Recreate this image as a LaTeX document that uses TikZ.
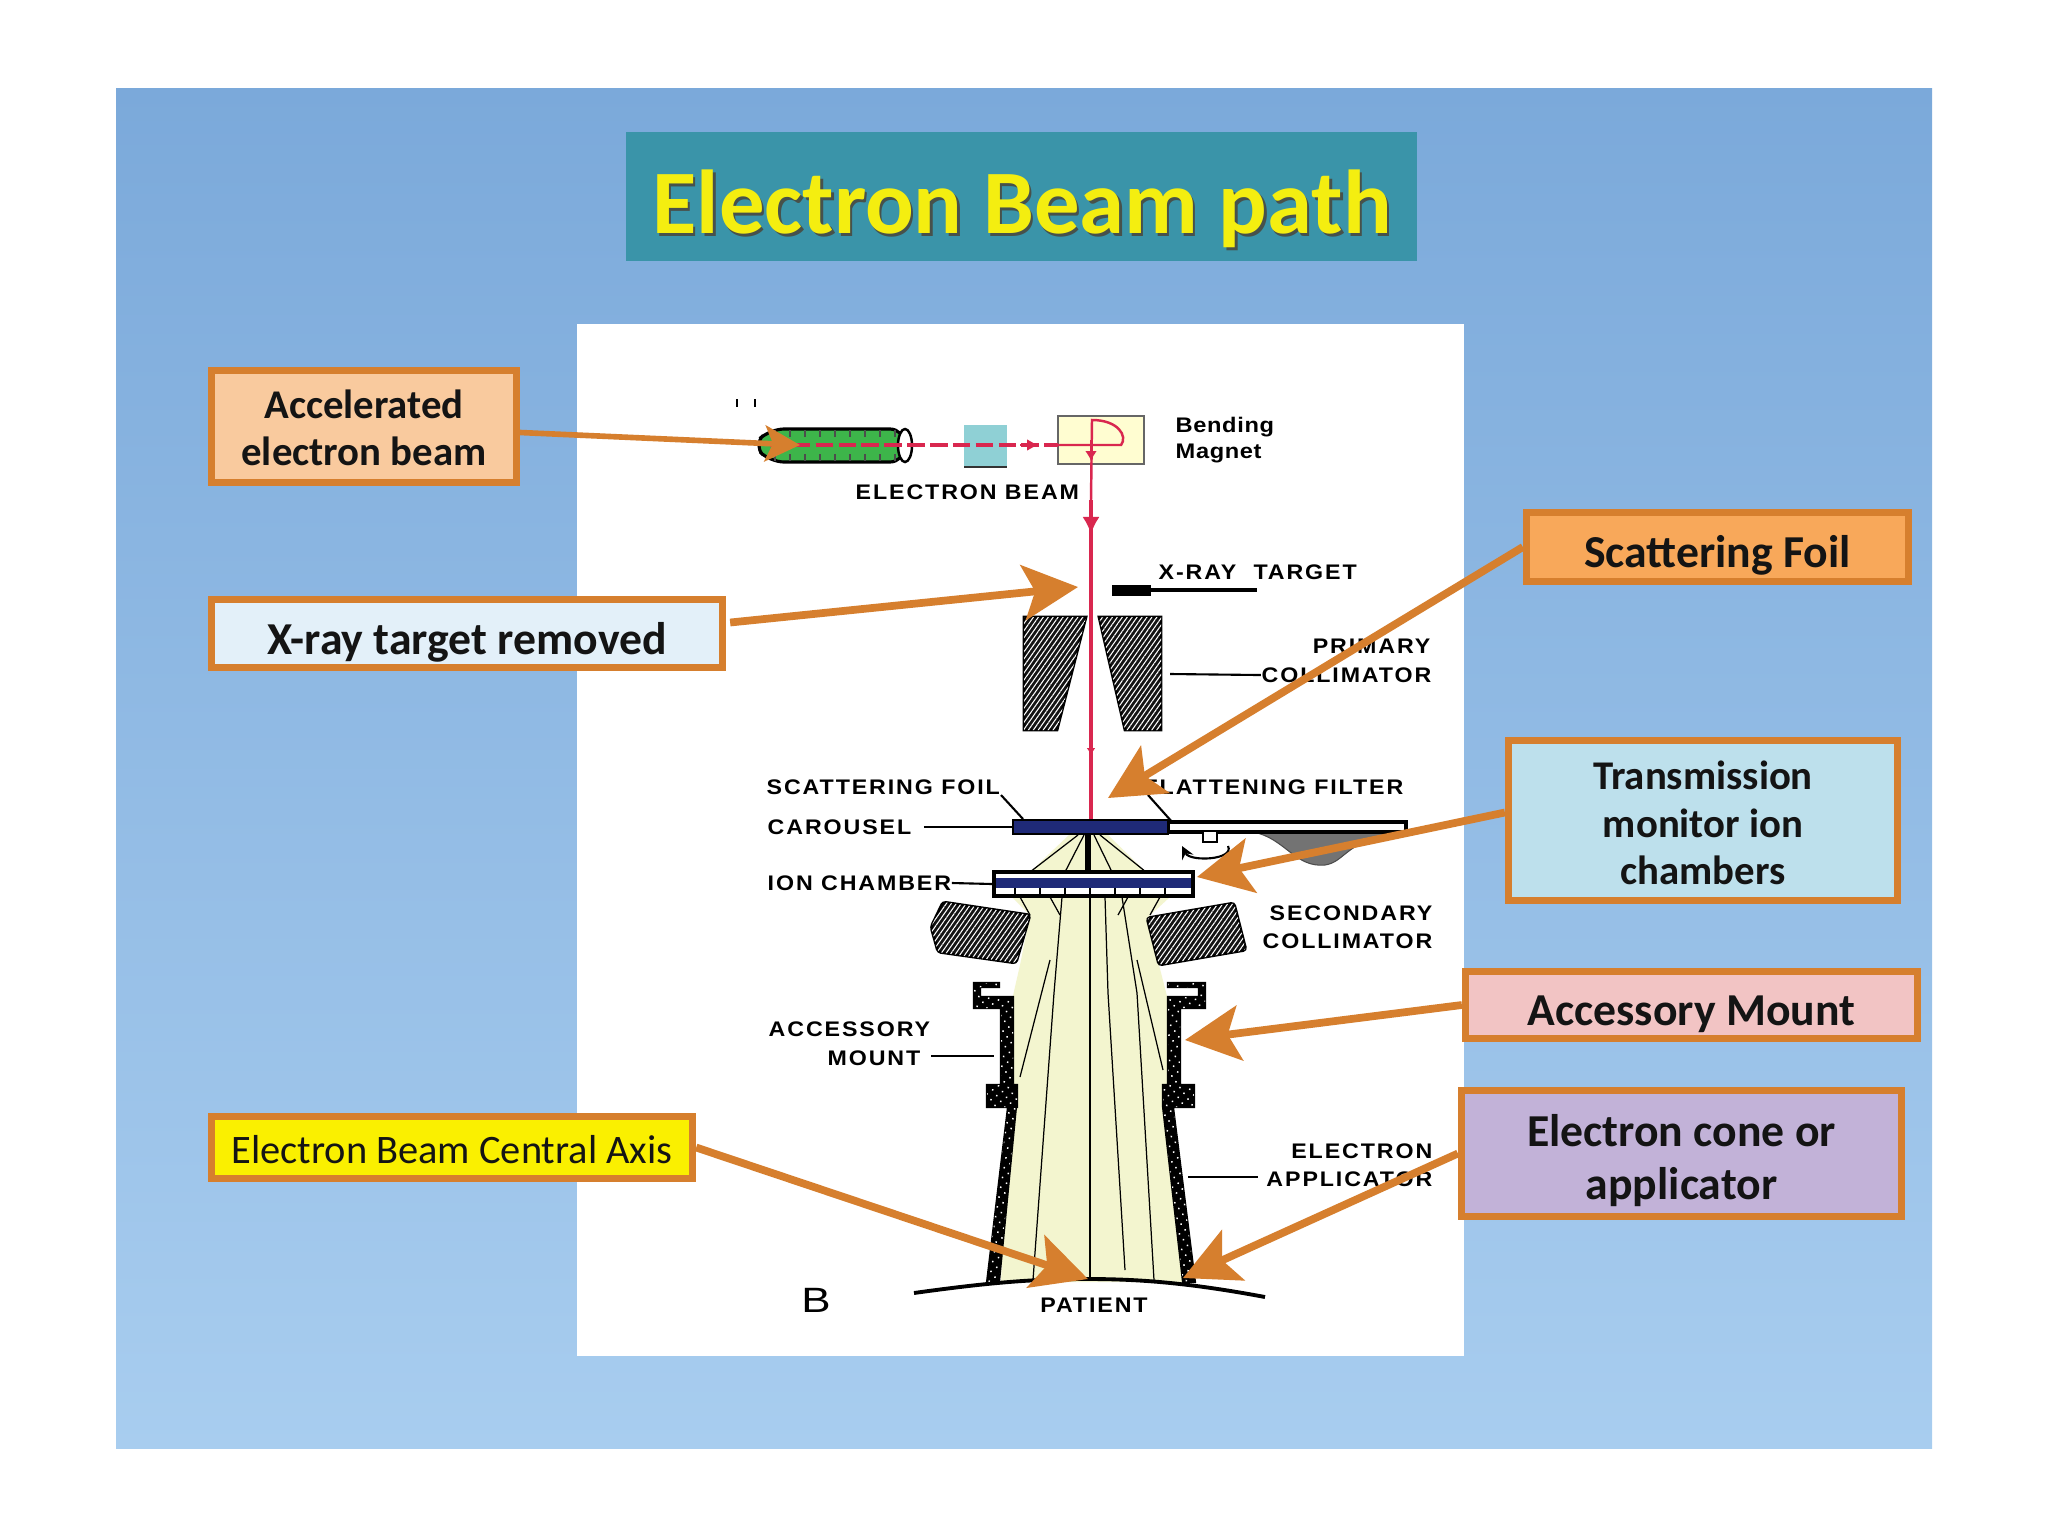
\documentclass[tikz,border=0pt]{standalone}
\usepackage{fontspec}
\setmainfont{Liberation Sans}
\newfontfamily\boxfont{Carlito}[BoldFont={Carlito Bold}]
\newfontfamily\lblfont[LetterSpace=9, FakeStretch=1.1]{Liberation Sans}
\newfontfamily\magfont[LetterSpace=3, FakeStretch=1.12]{Liberation Sans}
\usepackage{xcolor}
\usetikzlibrary{patterns.meta}
\usetikzlibrary{arrows.meta}
\definecolor{panelTop}{HTML}{7BA9DA}
\definecolor{panelBot}{HTML}{A8CDEF}
\definecolor{titleBg}{HTML}{3A94A9}
\definecolor{titleFg}{HTML}{F4EE10}
\definecolor{edgeOr}{HTML}{D67F2E}
\definecolor{beamRed}{HTML}{D9274F}
\definecolor{coneFill}{HTML}{F3F5CF}
\definecolor{plateBlue}{HTML}{1F2A78}
\definecolor{tagPeach}{HTML}{F9CA9E}
\definecolor{tagIce}{HTML}{E3F0F9}
\definecolor{tagOrange}{HTML}{F8A85A}
\definecolor{tagAqua}{HTML}{BDE0EC}
\definecolor{tagPink}{HTML}{F2C4C4}
\definecolor{tagLilac}{HTML}{C2B2D8}
\definecolor{tagYellow}{HTML}{FAF000}
\definecolor{tubeGreen}{HTML}{3DB54A}
\definecolor{slitTeal}{HTML}{8FD0D5}

\begin{document}
\begin{tikzpicture}[
      x=0.01cm,
      y=-0.01cm,
      >=stealth,
      lbl/.style={font=\lblfont\fontsize{6}{7}\selectfont\bfseries, inner sep=0pt, text=black},
      tag/.style={draw=edgeOr, line width=2pt, align=center, inner sep=0pt, text=black!92},
      smalltag/.style={tag, font=\boxfont\fontsize{11.6}{13.5}\selectfont\bfseries},
      bigtag/.style={tag, font=\boxfont\fontsize{13}{15.2}\selectfont\bfseries},
      pointer/.style={-{Stealth[length=.55cm, width=.55cm, inset=.12cm]}, line width=2.2pt, draw=edgeOr},
      beam/.style={draw=beamRed, line width=.7pt},
      leader/.style={draw=black, line width=.6pt},
      ray/.style={draw=black, line width=.35pt},
      hatchblk/.style={fill=black!92, draw=black, line width=.8pt, postaction={pattern={Lines[angle=55, distance=1.15pt, line width=.3pt]}, pattern color=white}},
      spotblk/.style={fill=black, draw=black, line width=.6pt, postaction={pattern={Dots[radius=.3pt, distance=2pt, angle=35]}, pattern color=white}}
    ]
    \useasboundingbox (0,0) rectangle (2048,1536);

    % Fondo
    \shade[top color=panelTop, bottom color=panelBot] (116,88) rectangle (1932,1448);
    \fill[white] (577,324) rectangle (1464,1356);

    % Titolo
    \fill[titleBg] (626,132) rectangle (1417,261);
    \node[inner sep=0pt, font=\boxfont\fontsize{25.8}{30}\selectfont\bfseries, text=black!70!yellow!60!black, opacity=.85] (titleShadow) at (1024.5,212) {Electron Beam path};
    \node[inner sep=0pt, font=\boxfont\fontsize{25.8}{30}\selectfont\bfseries, text=titleFg] (title) at (1022,209) {Electron Beam path};

    % Acceleratore
    \draw[black, line width=.6pt] (737,399) -- (737,407);
    \draw[black, line width=.6pt] (755,399) -- (755,407);
    \draw[fill=tubeGreen, draw=black, line width=.9pt, rounded corners=.14cm] (770,429) -- (904,429) -- (904,462) -- (770,462) -- (753,445) -- cycle;
    \foreach \x in {775,790,...,895} {
      \draw[black!70, line width=.6pt] (\x,430) -- (\x,437);
      \draw[black!70, line width=.6pt] (\x,454) -- (\x,461);
    }
    \draw[fill=white, draw=black, line width=.7pt] (905,445.5) ellipse (7 and 16.5);
    \fill[slitTeal] (964,425) rectangle (1007,467);
    \draw[black!80, line width=.6pt] (964,467) -- (1007,467);
    \draw[fill=yellow!18, draw=black!60, line width=.35pt] (1058,416) rectangle (1144,464);

    % Fascio
    \draw[beam, line width=.9pt, dash pattern=on 5pt off 1.5pt] (770,445) -- (1058,445);
    \draw[beam] (1058,445) -- (1121,445) .. controls (1128,436) and (1118,420) .. (1092,420) -- (1091,500);
    \draw[beam, -{Latex[length=.12cm, width=.12cm]}] (1020,445) -- (1039,445);
    \draw[beam, -{Latex[length=.1cm, width=.12cm]}] (1091,440) -- (1091,461);
    \coordinate (beamTop) at (1091,500);
    \coordinate (beamFoil) at (1091,822);
    \draw[beam, line width=1pt] (beamTop) -- (beamFoil);
    \draw[beam, -{Latex[length=.17cm, width=.17cm]}] (1091,490) -- (1091,534);
    \draw[beam, -{Latex[length=.07cm, width=.09cm]}] (1091,740) -- (1091,755);

    % Bersaglio
    \fill[black] (1112,585) rectangle (1151,596);
    \draw[black, line width=1pt] (1151,590) -- (1257,590);

    % Collimatore primario
    \draw[hatchblk] (1024,617) -- (1086,617) -- (1057,730) -- (1024,730) -- cycle;
    \draw[hatchblk] (1099,617) -- (1161,617) -- (1161,730) -- (1125,730) -- cycle;

    % Cono del fascio
    \fill[coneFill] (1012,897) -- (1170,897) -- (1147,918) -- (1159,965) -- (1168,1000) -- (1183,1282) -- (1001,1282) -- (1012,1000) -- (1020,965) -- (1030,915) -- cycle;
    \fill[coneFill] (1069,835) -- (1108,835) -- (1146,872) -- (1030,872) -- cycle;
    \draw[ray] (1078,835) -- (1030,872);
    \draw[ray] (1084,835) -- (1065,872);
    \draw[ray] (1094,835) -- (1112,872);
    \draw[ray] (1100,835) -- (1146,872);
    \foreach \x/\y in {1020/1030, 1050/1060, 1128/1118, 1160/1150} \draw[ray] (\x,897) -- (\y,915);
    \draw[ray] (1090,897) -- (1090,1280);
    \draw[ray] (1062,897) -- (1054,993) -- (1033,1280);
    \draw[ray] (1105,897) -- (1108,993) -- (1125,1270);
    \draw[ray] (1122,897) -- (1137,993) -- (1154,1280);
    \draw[ray] (1050,960) -- (1020,1077);
    \draw[ray] (1137,960) -- (1163,1070);
    \draw[black, line width=1.6pt] (1088,835) -- (1088,870);

    % Collimatore secondario
    \draw[hatchblk, rounded corners=.03cm] (943,902) -- (1030,915) -- (1016,963) -- (938,952) -- (931,927) -- cycle;
    \draw[hatchblk, rounded corners=.03cm] (1147,918) -- (1234,903) -- (1246,950) -- (1159,965) -- cycle;

    % Piastre
    \draw[fill=black!55, draw=black!70, line width=.3pt] (1253,832) .. controls (1285,838) and (1295,868) .. (1325,865) .. controls (1345,862) and (1345,842) .. (1395,832) -- cycle;
    \draw[fill=white, draw=black, line width=.9pt] (1168,822) rectangle (1406,832);
    \node[draw=black, fill=plateBlue, line width=.8pt, minimum width=1.55cm, minimum height=.14cm, inner sep=0pt] (foil) at (1090.5,827) {};
    \node[draw=black, fill=white, line width=1pt, minimum width=1.99cm, minimum height=.24cm, inner sep=0pt] (chamber) at (1093.5,884) {};
    \fill[plateBlue] (996,878) rectangle (1191,888);
    \foreach \x in {1015,1040,...,1180} \draw[ray] (\x,888) -- (\x,896);
    \draw[black, line width=.8pt, fill=white] (1203,832) -- (1203,842) -- (1217,842) -- (1217,832);
    \draw[black, line width=.6pt, ->] (1228,846) .. controls (1235,860) and (1190,862) .. (1182,846);

    % Applicatore
    \draw[spotblk] (974,983) -- (999,983) -- (999,987) -- (980,987) -- (980,997) -- (1013,997) -- (1013,1085) -- (1017,1085) -- (1017,1107) -- (1016,1107) -- (999,1282) -- (987,1282) -- (1008,1107) -- (987,1107) -- (987,1085) -- (1001,1085) -- (1001,1008) -- (974,1008) -- cycle;
    \draw[spotblk] (1205,983) -- (1168,983) -- (1168,987) -- (1199,987) -- (1199,997) -- (1168,997) -- (1168,1085) -- (1163,1085) -- (1163,1107) -- (1183,1282) -- (1195,1282) -- (1173,1107) -- (1194,1107) -- (1194,1085) -- (1180,1085) -- (1180,1008) -- (1205,1008) -- cycle;

    % Paziente
    \draw[black, line width=1.1pt] (914,1293) .. controls (1000,1281) and (1040,1279) .. (1088,1279) .. controls (1140,1279) and (1190,1283) .. (1265,1297);

    % Scritte
    \node[lbl, font=\magfont\fontsize{6}{7}\selectfont\bfseries, anchor=west] (lblBending) at (1175,427) {Bending};
    \node[lbl, font=\magfont\fontsize{6}{7}\selectfont\bfseries, anchor=west] (lblMagnet) at (1175,453) {Magnet};
    \node[lbl, anchor=west] (lblBeam) at (855,492) {ELECTRON BEAM};
    \node[lbl, anchor=west] (lblTarget) at (1158,572) {X-RAY\hspace{2.5pt} TARGET};
    \node[lbl, anchor=east] (lblPrimary) at (1431,646) {PRIMARY};
    \node[lbl, anchor=east] (lblPrimColl) at (1432,675) {COLLIMATOR};
    \node[lbl, anchor=west] (lblFoil) at (766,787) {SCATTERING FOIL};
    \node[lbl, anchor=east] (lblFilter) at (1404,787) {FLATTENING FILTER};
    \node[lbl, anchor=west] (lblCarousel) at (767,827) {CAROUSEL};
    \node[lbl, anchor=west] (lblIon) at (767,883) {ION CHAMBER};
    \node[lbl, anchor=east] (lblSecondary) at (1433,913) {SECONDARY};
    \node[lbl, anchor=east] (lblSecColl) at (1433,941) {COLLIMATOR};
    \node[lbl, anchor=west] (lblAccessory) at (768,1029) {ACCESSORY};
    \node[lbl, anchor=east] (lblMount) at (921,1058) {MOUNT};
    \node[lbl, anchor=east] (lblElectron) at (1433,1151) {ELECTRON};
    \node[lbl, anchor=east] (lblApplicator) at (1433,1179) {APPLICATOR};
    \node[lbl, anchor=center] (lblPatient) at (1094,1305) {PATIENT};
    \node[inner sep=0pt, xscale=1.25, font=\fontsize{10}{12}\selectfont] (lblB) at (816,1300) {B};

    % Linee di richiamo
    \coordinate (primEnd) at (1170,674);
    \coordinate (mountEnd) at (994,1056);
    \coordinate (applEnd) at (1188,1177);
    \coordinate (filterEnd) at (1173,823);
    \coordinate (filterTop) at (1148,795);
    \coordinate (foilTop) at (1001,795);
    \coordinate (foilEnd) at (1023,819);
    \draw[leader] (lblPrimColl.west) -- ++(-2,0) -- (primEnd);
    \draw[leader] (lblCarousel.east) ++(12,0) -- (foil.west);
    \draw[leader] (lblIon.east) -- (chamber.west);
    \draw[leader] (lblMount.east) ++(10,-2) -- (mountEnd);
    \draw[leader] (lblApplicator.west) ++(-8,-2) -- (applEnd);
    \draw[leader] (foilTop) -- (foilEnd);
    \draw[leader] (filterTop) -- (filterEnd);

    % Riquadri
    \node[smalltag, fill=tagPeach, minimum width=3.05cm, minimum height=1.12cm] (accel) at (364,426.5) {\rule{0pt}{9pt}Accelerated\\electron beam};
    \node[bigtag, fill=tagIce, text height=14.2pt, text depth=2.5pt, minimum width=5.11cm, minimum height=.68cm] (xray) at (467,633.5) {X-ray target removed};
    \node[tag, fill=tagYellow, font=\boxfont\fontsize{11.5}{13}\selectfont, text height=11.7pt, text depth=2.5pt, minimum width=4.81cm, minimum height=.62cm] (axis) at (452,1147.5) {Electron Beam Central Axis};
    \node[bigtag, fill=tagOrange, text height=14.2pt, text depth=2.5pt, minimum width=3.82cm, minimum height=.69cm] (scatter) at (1717.5,547) {Scattering Foil};
    \node[smalltag, fill=tagAqua, minimum width=3.89cm, minimum height=1.6cm] (trans) at (1703,820.5) {\rule{0pt}{9.5pt}Transmission\\monitor ion\\chambers};
    \node[bigtag, fill=tagPink, text height=14.2pt, text depth=2.5pt, minimum width=4.52cm, minimum height=.67cm] (mount) at (1691.5,1005) {Accessory Mount};
    \node[bigtag, fill=tagLilac, minimum width=4.40cm, minimum height=1.26cm] (cone) at (1681.5,1153.5) {\rule{0pt}{13pt}Electron cone or\\applicator};

    % Frecce
    \coordinate (accelTip) at (800,445);
    \coordinate (xrayTip) at (1078,587);
    \coordinate (foilTip) at (1108,798);
    \coordinate (ionTip) at (1197,877);
    \coordinate (mountTip) at (1185,1040);
    \coordinate (axisTip) at (1088,1279);
    \coordinate (coneTip) at (1183,1278);
    \draw[pointer, line width=1.6pt, -{Stealth[length=.35cm, width=.36cm, inset=.08cm]}] (accel.east) ++(0,6) -- (accelTip);
    \draw[pointer] (xray.east) ++(4,-11) -- (xrayTip);
    \draw[pointer] (scatter.west) -- (foilTip);
    \draw[pointer] (trans.west) ++(0,-8) -- (ionTip);
    \draw[pointer] (mount.west) -- (mountTip);
    \draw[pointer] (axis.east) -- (axisTip);
    \draw[pointer] (cone.west) -- (coneTip);
  \end{tikzpicture}
\end{document}
